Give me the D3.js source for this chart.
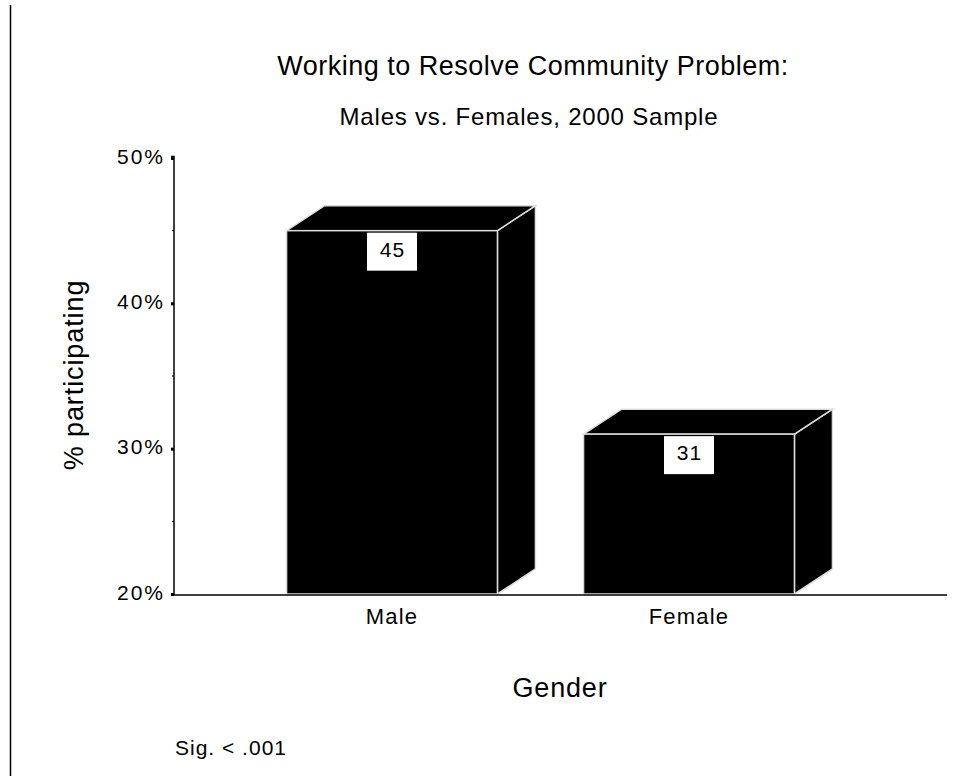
<!DOCTYPE html>
<html>
<head>
<meta charset="utf-8">
<script src="https://cdn.jsdelivr.net/npm/d3@7"></script>
<style>
  body { margin: 0; background: #fff; }
  text { font-family: "Liberation Sans", Arial, sans-serif; fill: #000; }
</style>
</head>
<body>
<svg id="chart" width="975" height="776"></svg>
<script>
// data
const categories = ["Male", "Female"];
const values = [45, 31];
const yTicks = [20, 30, 40, 50];
const yMinorTicks = [25, 35, 45];

const svg = d3.select("#chart");
const depthX = 38, depthY = 25;

// page frame line on the left
svg.append("line")
    .attr("x1", 10.5).attr("x2", 10.5).attr("y1", 5).attr("y2", 776)
    .attr("stroke", "#000").attr("stroke-width", 1.5);

const x = d3.scaleBand().domain(categories)
    .range([174, 907]).paddingInner(0.29).paddingOuter(0.379);
const y = d3.scaleLinear().domain([20, 50]).range([594, 158]);

// bars (3d boxes)
const bars = svg.append("g").attr("class", "bars");
categories.forEach((c, i) => {
    const x0 = x(c), x1 = x(c) + x.bandwidth();
    const yt = y(values[i]), yb = y(20);
    const g = bars.append("g");
    // side face
    g.append("path")
        .attr("d", `M${x1},${yt} L${x1 + depthX},${yt - depthY} L${x1 + depthX},${yb - depthY} L${x1},${yb} Z`)
        .attr("fill", "#000").attr("stroke", "#ddd").attr("stroke-width", 1.5);
    // top face
    g.append("path")
        .attr("d", `M${x0},${yt} L${x0 + depthX},${yt - depthY} L${x1 + depthX},${yt - depthY} L${x1},${yt} Z`)
        .attr("fill", "#000").attr("stroke", "#ddd").attr("stroke-width", 1.5);
    // front face
    g.append("rect")
        .attr("x", x0).attr("y", yt).attr("width", x1 - x0).attr("height", yb - yt)
        .attr("fill", "#000").attr("stroke", "#ddd").attr("stroke-width", 1.5);
    // value label
    const cx = x0 + x.bandwidth() / 2;
    g.append("rect")
        .attr("x", cx - 25).attr("y", yt + 2).attr("width", 50).attr("height", 38)
        .attr("fill", "#fff");
    g.append("text")
        .attr("x", cx + 0.5).attr("y", yt + 26)
        .attr("text-anchor", "middle").attr("font-size", 21)
        .attr("letter-spacing", 1)
        .text(values[i]);
});

// y axis
const yAxis = svg.append("g").attr("transform", "translate(174,0)")
    .call(d3.axisLeft(y).tickValues(yTicks).tickFormat(d => d + "%").tickSize(3).tickPadding(6));
yAxis.select(".domain").attr("stroke", "#000").attr("stroke-width", 1.5)
    .attr("d", "M-3,156.5H0V595");
yAxis.selectAll(".tick line").attr("stroke", "#000").attr("stroke-width", 3);
yAxis.selectAll(".tick text").attr("font-size", 21).attr("letter-spacing", 2)
    .attr("dy", "0.25em")
    .attr("font-family", "Liberation Sans, Arial, sans-serif");
svg.append("g").selectAll("line").data(yMinorTicks).join("line")
    .attr("x1", 172).attr("x2", 174)
    .attr("y1", d => y(d)).attr("y2", d => y(d))
    .attr("stroke", "#000").attr("stroke-width", 1);

// x axis
svg.append("line")
    .attr("x1", 173).attr("x2", 947).attr("y1", 595).attr("y2", 595)
    .attr("stroke", "#000").attr("stroke-width", 1.5);
svg.append("g").selectAll("text").data(categories).join("text")
    .attr("x", d => x(d) + x.bandwidth() / 2)
    .attr("y", 624)
    .attr("text-anchor", "middle").attr("font-size", 22)
    .attr("letter-spacing", 1.2)
    .text(d => d);

// titles
svg.append("text").attr("x", 533).attr("y", 75)
    .attr("text-anchor", "middle").attr("font-size", 27)
    .attr("letter-spacing", 0.5)
    .text("Working to Resolve Community Problem:");
svg.append("text").attr("x", 529).attr("y", 125)
    .attr("text-anchor", "middle").attr("font-size", 24)
    .attr("letter-spacing", 0.8)
    .text("Males vs. Females, 2000 Sample");
svg.append("text").attr("x", 560).attr("y", 697)
    .attr("text-anchor", "middle").attr("font-size", 27)
    .attr("letter-spacing", 0.8)
    .text("Gender");
svg.append("text")
    .attr("transform", "translate(83,375) rotate(-90)")
    .attr("text-anchor", "middle").attr("font-size", 27)
    .attr("letter-spacing", 0.9)
    .text("% participating");
svg.append("text").attr("x", 175).attr("y", 755)
    .attr("font-size", 21).attr("letter-spacing", 1)
    .text("Sig. < .001");
</script>
</body>
</html>
